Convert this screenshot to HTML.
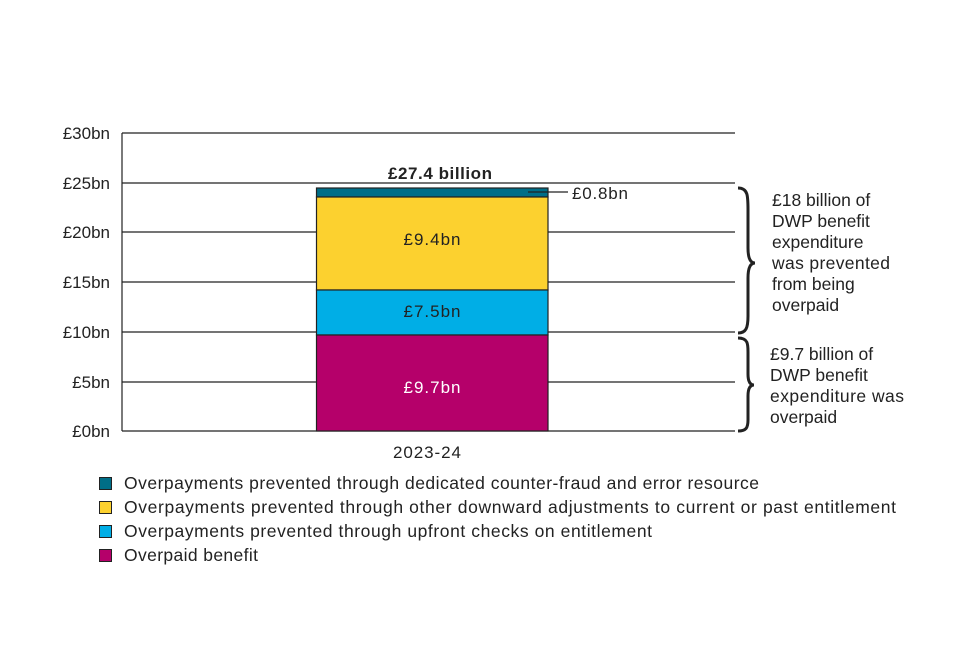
<!DOCTYPE html>
<html><head><meta charset="utf-8"><style>
body{margin:0;background:#fff;}
svg text{font-family:"Liberation Sans",sans-serif;fill:#222;}
</style></head><body>
<svg width="960" height="640" viewBox="0 0 960 640" xmlns="http://www.w3.org/2000/svg">
<g stroke="#222" stroke-width="1.2">
<line x1="122" y1="133" x2="735" y2="133"/>
<line x1="122" y1="183" x2="735" y2="183"/>
<line x1="122" y1="232" x2="735" y2="232"/>
<line x1="122" y1="282" x2="735" y2="282"/>
<line x1="122" y1="332" x2="735" y2="332"/>
<line x1="122" y1="382" x2="735" y2="382"/>
<line x1="122" y1="431" x2="735" y2="431"/>
<line x1="122" y1="133" x2="122" y2="431"/>
</g>
<g font-size="17" text-anchor="end">
<text x="110" y="139">£30bn</text>
<text x="110" y="189">£25bn</text>
<text x="110" y="238">£20bn</text>
<text x="110" y="288">£15bn</text>
<text x="110" y="338">£10bn</text>
<text x="110" y="388">£5bn</text>
<text x="110" y="437">£0bn</text>
</g>
<g stroke="#222" stroke-width="1.2">
<rect x="316.5" y="188" width="231.5" height="9" fill="#006e87"/>
<rect x="316.5" y="197" width="231.5" height="93" fill="#fcd12f"/>
<rect x="316.5" y="290" width="231.5" height="45" fill="#00aee6"/>
<rect x="316.5" y="335" width="231.5" height="96" fill="#b5006a"/>
<line x1="528" y1="192" x2="568" y2="192"/>
</g>
<text x="440" y="179" font-size="17" font-weight="bold" text-anchor="middle" textLength="104">£27.4 billion</text>
<text x="572" y="199" font-size="17" textLength="56">£0.8bn</text>
<text x="432" y="245" font-size="17" text-anchor="middle" textLength="57">£9.4bn</text>
<text x="432" y="317" font-size="17" text-anchor="middle" textLength="57">£7.5bn</text>
<text x="432" y="393" font-size="17" text-anchor="middle" textLength="57" style="fill:#fff">£9.7bn</text>
<text x="427" y="458" font-size="17" text-anchor="middle" textLength="68">2023-24</text>
<g fill="none" stroke="#222" stroke-width="3">
<path d="M738,188 C748,188 748,196 748,210 L748,248 C748,258 750,263 755,263 C750,263 748,268 748,278 L748,316 C748,328 746,333 738,333"/>
<path d="M738,338 C748,338 748,344 748,352 L748,374 C748,381 750,385 754,385 C750,385 748,389 748,396 L748,420 C748,428 746,431 738,431"/>
</g>
<g font-size="17.5">
<text x="772" y="206">£18 billion of</text>
<text x="772" y="227">DWP benefit</text>
<text x="772" y="248">expenditure</text>
<text x="772" y="269" textLength="118">was prevented</text>
<text x="772" y="290">from being</text>
<text x="772" y="311">overpaid</text>
<text x="770" y="360">£9.7 billion of</text>
<text x="770" y="381">DWP benefit</text>
<text x="770" y="402" textLength="134">expenditure was</text>
<text x="770" y="423">overpaid</text>
</g>
<g stroke="#222" stroke-width="1">
<rect x="99.5" y="477.5" width="12" height="12" fill="#006e87"/>
<rect x="99.5" y="501.5" width="12" height="12" fill="#fcd12f"/>
<rect x="99.5" y="525.5" width="12" height="12" fill="#00aee6"/>
<rect x="99.5" y="549.5" width="12" height="12" fill="#b5006a"/>
</g>
<g font-size="17.5">
<text x="124" y="489" textLength="635">Overpayments prevented through dedicated counter-fraud and error resource</text>
<text x="124" y="513" textLength="772">Overpayments prevented through other downward adjustments to current or past entitlement</text>
<text x="124" y="537" textLength="528">Overpayments prevented through upfront checks on entitlement</text>
<text x="124" y="561" textLength="134">Overpaid benefit</text>
</g>
</svg>
</body></html>
